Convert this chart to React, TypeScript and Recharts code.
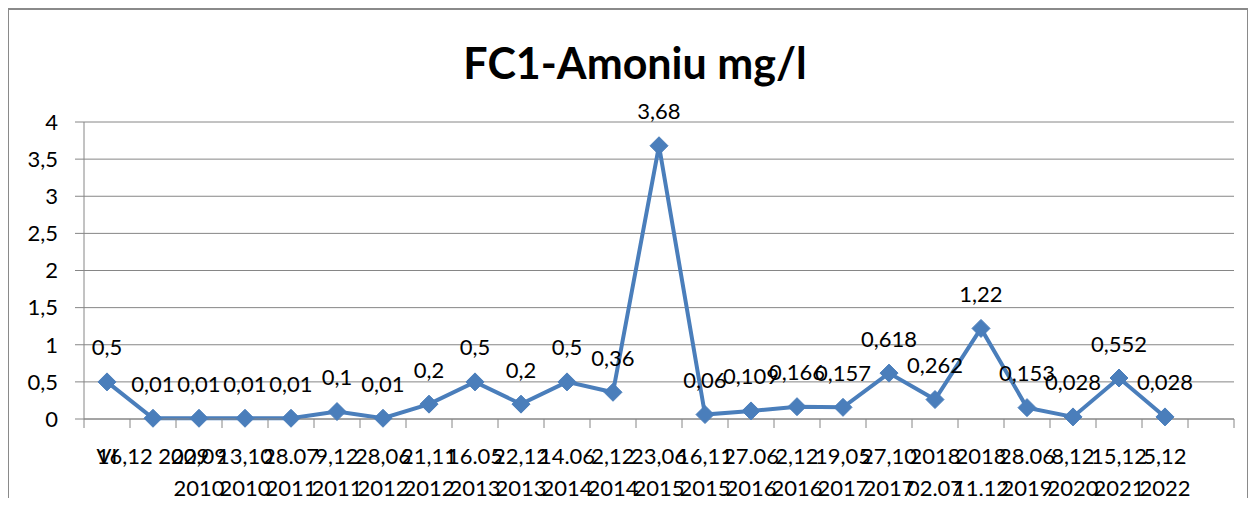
import { LineChart, Line, XAxis, YAxis, CartesianGrid, LabelList } from "recharts";

// category labels, "\n" marks where Excel wrapped the text
const categories = [
  "VI",
  "16,12 2009",
  "22,09\n2010",
  "13,10\n2010",
  "28.07\n2011",
  "9,12\n2011",
  "28,06\n2012",
  "21,11\n2012",
  "16.05\n2013",
  "22,12\n2013",
  "14.06\n2014",
  "2,12\n2014",
  "23,06\n2015",
  "16,11\n2015",
  "27.06\n2016",
  "2,12\n2016",
  "19,05\n2017",
  "27,10\n2017",
  "2018\n02.07",
  "2018\n11.12",
  "28.06\n2019",
  "8,12\n2020",
  "15,12\n2021",
  "5,12\n2022",
  "",
];

const amoniu = [
  0.5, 0.01, 0.01, 0.01, 0.01, 0.1, 0.01, 0.2, 0.5, 0.2, 0.5, 0.36, 3.68, 0.06, 0.109, 0.166, 0.157,
  0.618, 0.262, 1.22, 0.153, 0.028, 0.552, 0.028,
];

const yTicks = [0, 0.5, 1, 1.5, 2, 2.5, 3, 3.5, 4];

const data = categories.map((cat, i) => ({
  cat,
  value: i < amoniu.length ? amoniu[i] : null,
}));

const BLUE = "#4A7EBB";
const GRID = "#868686";
const FONT = "Lato, 'Liberation Sans', sans-serif";

const CHART_W = 1240;
const CHART_H = 498;
const MARGIN = { top: 114, right: 14, bottom: 0, left: 0 };
const Y_AXIS_W = 76;
const STEP = (CHART_W - MARGIN.left - MARGIN.right - Y_AXIS_W) / categories.length;

const comma = (v: number) => String(v).replace(".", ",");

function XTick(props: any) {
  const { x, y, payload, index } = props;
  const lines = String(payload.value).split("\n");
  const half = STEP / 2;
  return (
    <g>
      <line x1={x - half} x2={x - half} y1={y} y2={y + 9} stroke={GRID} />
      {index === categories.length - 1 && (
        <line x1={x + half} x2={x + half} y1={y} y2={y + 9} stroke={GRID} />
      )}
      {lines.map((ln, i) => (
        <text
          key={i}
          x={x}
          y={y + 36 + i * 32}
          textAnchor="middle"
          dominantBaseline="central"
          fontSize={22}
          fontFamily={FONT}
          fill="#000"
        >
          {ln}
        </text>
      ))}
    </g>
  );
}

function Diamond(props: any) {
  const { cx, cy, payload } = props;
  if (cx == null || cy == null || payload.value == null) return <g />;
  const r = 9;
  return (
    <polygon
      points={`${cx},${cy - r} ${cx + r},${cy} ${cx},${cy + r} ${cx - r},${cy}`}
      fill={BLUE}
      stroke={BLUE}
    />
  );
}

function ValueLabel(props: any) {
  const { x, y, value } = props;
  if (value == null) return null;
  return (
    <text
      x={x}
      y={y - 35}
      textAnchor="middle"
      dominantBaseline="central"
      fontSize={22}
      fontFamily={FONT}
      fill="#000"
    >
      {comma(value)}
    </text>
  );
}

export default function App() {
  return (
    <div
      style={{
        position: "relative",
        width: CHART_W,
        height: CHART_H,
        marginBottom: -8,
        overflow: "hidden",
      }}
    >
      <div
        style={{
          position: "absolute",
          left: -1,
          top: 0,
          width: CHART_W + 2,
          height: CHART_H + 20,
          border: "2px solid #8a8a8a",
          boxSizing: "border-box",
        }}
      />
      <div
        style={{
          position: "absolute",
          left: 0,
          top: 33,
          width: 1254,
          textAlign: "center",
          fontFamily: FONT,
          fontWeight: 700,
          fontSize: 43,
          lineHeight: "43px",
          color: "#000",
        }}
      >
        FC1-Amoniu mg/l
      </div>
      <LineChart width={CHART_W} height={CHART_H} data={data} margin={MARGIN}>
        <CartesianGrid vertical={false} stroke={GRID} strokeWidth={1} />
        <XAxis
          dataKey="cat"
          interval={0}
          padding={{ left: STEP / 2, right: STEP / 2 }}
          height={87}
          tickSize={0}
          tickMargin={0}
          tickLine={false}
          axisLine={{ stroke: GRID }}
          tick={<XTick />}
        />
        <YAxis
          width={Y_AXIS_W}
          domain={[0, 4]}
          ticks={yTicks}
          interval={0}
          tickSize={9}
          tickMargin={17}
          tickLine={{ stroke: GRID }}
          axisLine={{ stroke: GRID }}
          tickFormatter={comma}
          tick={{ fontSize: 22, fontFamily: FONT, fill: "#000" }}
        />
        <Line
          dataKey="value"
          stroke={BLUE}
          strokeWidth={4}
          dot={<Diamond />}
          activeDot={false}
          isAnimationActive={false}
        >
          <LabelList dataKey="value" content={<ValueLabel />} />
        </Line>
      </LineChart>
    </div>
  );
}
